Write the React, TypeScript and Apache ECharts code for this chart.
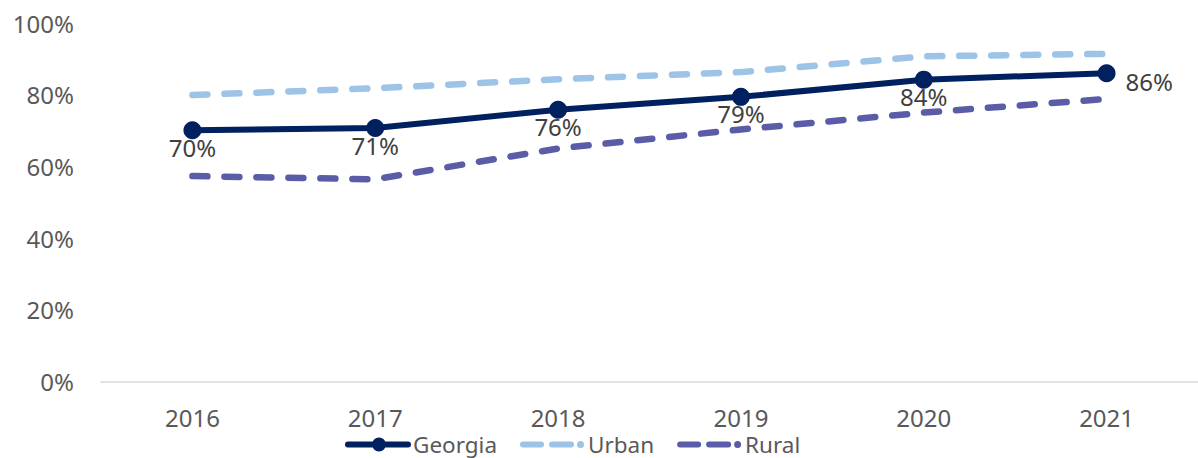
import React, { useEffect, useRef } from "react";
import * as echarts from "echarts";

const years = ["2016", "2017", "2018", "2019", "2020", "2021"];
const georgia = [70.1, 70.7, 75.8, 79.4, 84.2, 86.0];
const urban = [79.9, 81.8, 84.3, 86.3, 90.7, 91.4];
const rural = [57.3, 56.4, 65.0, 70.3, 75.0, 78.8];
const yTicks = [0, 20, 40, 60, 80, 100];

const FONT = "Noto Sans";

const CORNERS = "M0 0L0.01 0L0.01 0.01Z M66 16L65.99 16L65.99 15.99Z ";
const GEORGIA_ICON =
  "path://" +
  CORNERS +
  "M3 5H63A3 3 0 0 1 63 11H3A3 3 0 0 1 3 5Z M27 8A7 7 0 0 1 41 8A7 7 0 0 1 27 8Z";
const DASH_ICON =
  "path://" +
  CORNERS +
  "M3 5H21A3 3 0 0 1 21 11H3A3 3 0 0 1 3 5Z M32 5H51A3 3 0 0 1 51 11H32A3 3 0 0 1 32 5Z M57 8A3.5 3.5 0 0 1 64 8A3.5 3.5 0 0 1 57 8Z";

export default function App() {
  const ref = useRef<HTMLDivElement>(null);
  useEffect(() => {
    if (!ref.current) return;
    const chart = echarts.init(ref.current, undefined, { renderer: "svg" });
    chart.setOption({
      animation: false,
      backgroundColor: "#ffffff",
      textStyle: { fontFamily: FONT },
      grid: { left: 101, right: -3, top: 23, bottom: 76.5, containLabel: false },
      legend: {
        left: 340,
        top: 428,
        itemWidth: 66,
        itemHeight: 16,
        itemGap: 23,
        itemStyle: { borderWidth: 0 },
        textStyle: { fontFamily: FONT, fontSize: 22.5, color: "#595959", padding: [0, 0, 0, -3] },
        data: [
          { name: "Georgia", icon: GEORGIA_ICON },
          { name: "Urban", icon: DASH_ICON },
          { name: "Rural", icon: DASH_ICON },
        ],
      },
      xAxis: {
        type: "category",
        data: years,
        boundaryGap: true,
        axisLine: { lineStyle: { color: "#D9D9D9", width: 1.5 } },
        axisTick: { show: false },
        axisLabel: { color: "#595959", fontSize: 24, fontFamily: FONT, margin: 24 },
        splitLine: { show: false },
      },
      yAxis: {
        type: "value",
        min: 0,
        max: 100,
        interval: 20,
        axisLine: { show: false },
        axisTick: { show: false },
        splitLine: { show: false },
        axisLabel: {
          color: "#595959",
          fontSize: 24,
          fontFamily: FONT,
          margin: 27,
          formatter: (v: number) => (yTicks.includes(v) ? v + "%" : ""),
        },
      },
      series: [
        {
          name: "Urban",
          type: "line",
          data: urban,
          symbol: "none",
          lineStyle: { color: "#9DC3E6", width: 6.5, type: [15, 17], cap: "round" },
          itemStyle: { color: "#9DC3E6" },
          z: 2,
        },
        {
          name: "Rural",
          type: "line",
          data: rural,
          symbol: "none",
          lineStyle: { color: "#5B5CA8", width: 6.5, type: [15, 17], cap: "round" },
          itemStyle: { color: "#5B5CA8" },
          z: 2,
        },
        {
          name: "Georgia",
          type: "line",
          data: georgia.map((v, i) =>
            i === georgia.length - 1
              ? { value: v, label: { position: "right", distance: 10, offset: [0, 8] } }
              : v
          ),
          symbol: "circle",
          symbolSize: 18,
          lineStyle: { color: "#002060", width: 6 },
          itemStyle: { color: "#002060" },
          label: {
            show: true,
            position: "bottom",
            distance: -5,
            color: "#404040",
            fontSize: 24,
            fontFamily: FONT,
            lineHeight: 26,
            formatter: (p: any) => Math.round(p.value) + "%",
          },
          z: 3,
        },
      ],
    });
    return () => chart.dispose();
  }, []);
  return (
    <div
      ref={ref}
      style={{ position: "fixed", left: 0, top: 0, width: 1198, height: 458 }}
    />
  );
}
